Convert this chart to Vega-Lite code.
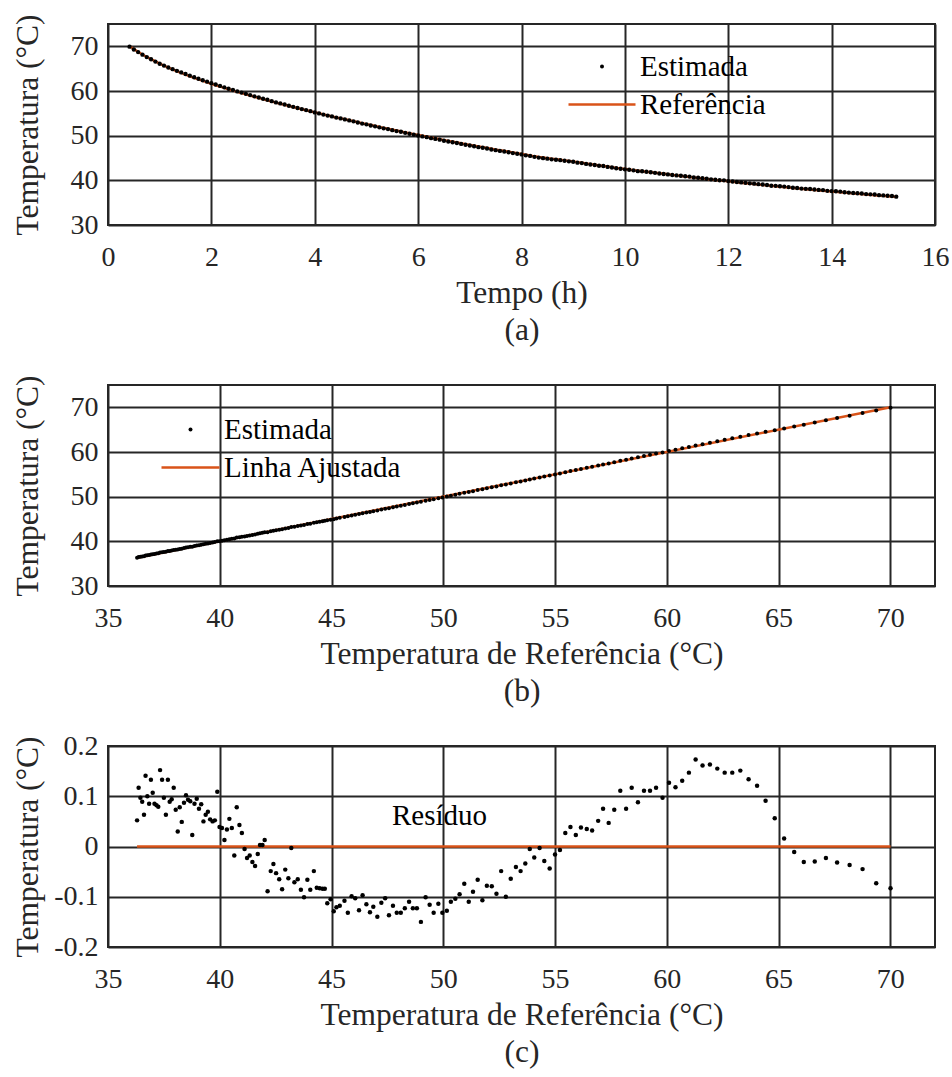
{
  "$schema": "https://vega.github.io/schema/vega-lite/v6.json",
  "background": "white",
  "padding": {"left": 10, "top": 12, "right": 5, "bottom": 5},
  "autosize": {"type": "pad"},
  "bounds": "flush",
  "spacing": 160,
  "datasets": {
    "amostras": [
      {"t":0.417,"ref":70.01,"est":69.927,"res":-0.083},
      {"t":0.5,"ref":69.37,"est":69.297,"res":-0.073},
      {"t":0.583,"ref":68.76,"est":68.715,"res":-0.045},
      {"t":0.667,"ref":68.18,"est":68.143,"res":-0.037},
      {"t":0.75,"ref":67.62,"est":67.588,"res":-0.032},
      {"t":0.833,"ref":67.12,"est":67.097,"res":-0.023},
      {"t":0.917,"ref":66.62,"est":66.59,"res":-0.03},
      {"t":1,"ref":66.13,"est":66.099,"res":-0.031},
      {"t":1.083,"ref":65.7,"est":65.689,"res":-0.011},
      {"t":1.167,"ref":65.25,"est":65.266,"res":0.016},
      {"t":1.25,"ref":64.83,"est":64.886,"res":0.056},
      {"t":1.333,"ref":64.42,"est":64.511,"res":0.091},
      {"t":1.417,"ref":64.04,"est":64.161,"res":0.121},
      {"t":1.5,"ref":63.66,"est":63.794,"res":0.134},
      {"t":1.583,"ref":63.29,"est":63.441,"res":0.151},
      {"t":1.667,"ref":62.93,"est":63.077,"res":0.147},
      {"t":1.75,"ref":62.59,"est":62.737,"res":0.147},
      {"t":1.833,"ref":62.26,"est":62.415,"res":0.155},
      {"t":1.917,"ref":61.93,"est":62.093,"res":0.163},
      {"t":2,"ref":61.6,"est":61.761,"res":0.161},
      {"t":2.083,"ref":61.29,"est":61.463,"res":0.173},
      {"t":2.167,"ref":60.99,"est":61.137,"res":0.147},
      {"t":2.25,"ref":60.69,"est":60.821,"res":0.131},
      {"t":2.333,"ref":60.39,"est":60.508,"res":0.118},
      {"t":2.417,"ref":60.1,"est":60.227,"res":0.127},
      {"t":2.5,"ref":59.81,"est":59.907,"res":0.097},
      {"t":2.583,"ref":59.52,"est":59.637,"res":0.117},
      {"t":2.667,"ref":59.25,"est":59.361,"res":0.111},
      {"t":2.75,"ref":58.98,"est":59.091,"res":0.111},
      {"t":2.833,"ref":58.71,"est":58.798,"res":0.088},
      {"t":2.917,"ref":58.43,"est":58.547,"res":0.117},
      {"t":3,"ref":58.18,"est":58.255,"res":0.075},
      {"t":3.083,"ref":57.92,"est":58.031,"res":0.111},
      {"t":3.167,"ref":57.65,"est":57.723,"res":0.073},
      {"t":3.25,"ref":57.4,"est":57.447,"res":0.047},
      {"t":3.333,"ref":57.15,"est":57.225,"res":0.075},
      {"t":3.417,"ref":56.93,"est":56.981,"res":0.051},
      {"t":3.5,"ref":56.66,"est":56.692,"res":0.032},
      {"t":3.583,"ref":56.42,"est":56.455,"res":0.035},
      {"t":3.667,"ref":56.16,"est":56.198,"res":0.038},
      {"t":3.75,"ref":55.93,"est":55.953,"res":0.023},
      {"t":3.833,"ref":55.69,"est":55.729,"res":0.039},
      {"t":3.917,"ref":55.46,"est":55.487,"res":0.027},
      {"t":4,"ref":55.22,"est":55.213,"res":-0.007},
      {"t":4.083,"ref":55.0,"est":54.984,"res":-0.016},
      {"t":4.167,"ref":54.76,"est":54.716,"res":-0.044},
      {"t":4.25,"ref":54.52,"est":54.491,"res":-0.029},
      {"t":4.333,"ref":54.31,"est":54.307,"res":-0.003},
      {"t":4.417,"ref":54.07,"est":54.048,"res":-0.022},
      {"t":4.5,"ref":53.87,"est":53.865,"res":-0.005},
      {"t":4.583,"ref":53.67,"est":53.636,"res":-0.034},
      {"t":4.667,"ref":53.46,"est":53.411,"res":-0.049},
      {"t":4.75,"ref":53.25,"est":53.209,"res":-0.041},
      {"t":4.833,"ref":53.02,"est":52.956,"res":-0.064},
      {"t":4.917,"ref":52.8,"est":52.7,"res":-0.1},
      {"t":5,"ref":52.59,"est":52.541,"res":-0.049},
      {"t":5.083,"ref":52.38,"est":52.286,"res":-0.094},
      {"t":5.167,"ref":52.17,"est":52.091,"res":-0.079},
      {"t":5.25,"ref":51.95,"est":51.872,"res":-0.078},
      {"t":5.333,"ref":51.75,"est":51.643,"res":-0.107},
      {"t":5.417,"ref":51.54,"est":51.474,"res":-0.066},
      {"t":5.5,"ref":51.33,"est":51.24,"res":-0.09},
      {"t":5.583,"ref":51.14,"est":51.03,"res":-0.11},
      {"t":5.667,"ref":50.94,"est":50.866,"res":-0.074},
      {"t":5.75,"ref":50.73,"est":50.635,"res":-0.095},
      {"t":5.833,"ref":50.54,"est":50.436,"res":-0.104},
      {"t":5.917,"ref":50.34,"est":50.23,"res":-0.11},
      {"t":6,"ref":50.16,"est":50.032,"res":-0.128},
      {"t":6.083,"ref":49.96,"est":49.828,"res":-0.132},
      {"t":6.167,"ref":49.78,"est":49.666,"res":-0.114},
      {"t":6.25,"ref":49.57,"est":49.438,"res":-0.132},
      {"t":6.333,"ref":49.39,"est":49.274,"res":-0.116},
      {"t":6.417,"ref":49.21,"est":49.109,"res":-0.101},
      {"t":6.5,"ref":49.0,"est":48.85,"res":-0.15},
      {"t":6.583,"ref":48.82,"est":48.697,"res":-0.123},
      {"t":6.667,"ref":48.64,"est":48.517,"res":-0.123},
      {"t":6.75,"ref":48.47,"est":48.36,"res":-0.11},
      {"t":6.833,"ref":48.28,"est":48.157,"res":-0.123},
      {"t":6.917,"ref":48.1,"est":47.968,"res":-0.132},
      {"t":7,"ref":47.92,"est":47.788,"res":-0.132},
      {"t":7.083,"ref":47.75,"est":47.632,"res":-0.118},
      {"t":7.167,"ref":47.57,"est":47.433,"res":-0.137},
      {"t":7.25,"ref":47.4,"est":47.297,"res":-0.103},
      {"t":7.333,"ref":47.23,"est":47.118,"res":-0.112},
      {"t":7.417,"ref":47.05,"est":46.91,"res":-0.14},
      {"t":7.5,"ref":46.87,"est":46.75,"res":-0.12},
      {"t":7.583,"ref":46.72,"est":46.589,"res":-0.131},
      {"t":7.667,"ref":46.56,"est":46.445,"res":-0.115},
      {"t":7.75,"ref":46.39,"est":46.293,"res":-0.097},
      {"t":7.833,"ref":46.23,"est":46.103,"res":-0.127},
      {"t":7.917,"ref":46.06,"est":45.957,"res":-0.103},
      {"t":8,"ref":45.9,"est":45.801,"res":-0.099},
      {"t":8.083,"ref":45.73,"est":45.598,"res":-0.132},
      {"t":8.167,"ref":45.58,"est":45.472,"res":-0.108},
      {"t":8.25,"ref":45.37,"est":45.252,"res":-0.118},
      {"t":8.333,"ref":45.22,"est":45.099,"res":-0.121},
      {"t":8.417,"ref":45.1,"est":44.971,"res":-0.129},
      {"t":8.5,"ref":44.96,"est":44.855,"res":-0.105},
      {"t":8.583,"ref":44.81,"est":44.697,"res":-0.113},
      {"t":8.667,"ref":44.7,"est":44.616,"res":-0.084},
      {"t":8.75,"ref":44.6,"est":44.516,"res":-0.084},
      {"t":8.833,"ref":44.47,"est":44.387,"res":-0.083},
      {"t":8.917,"ref":44.34,"est":44.258,"res":-0.082},
      {"t":9,"ref":44.21,"est":44.161,"res":-0.049},
      {"t":9.083,"ref":44.05,"est":43.964,"res":-0.086},
      {"t":9.167,"ref":43.92,"est":43.854,"res":-0.066},
      {"t":9.25,"ref":43.77,"est":43.669,"res":-0.101},
      {"t":9.333,"ref":43.63,"est":43.544,"res":-0.086},
      {"t":9.417,"ref":43.49,"est":43.425,"res":-0.065},
      {"t":9.5,"ref":43.34,"est":43.269,"res":-0.071},
      {"t":9.583,"ref":43.2,"est":43.197,"res":-0.003},
      {"t":9.667,"ref":43.07,"est":43.007,"res":-0.063},
      {"t":9.75,"ref":42.93,"est":42.884,"res":-0.046},
      {"t":9.833,"ref":42.79,"est":42.705,"res":-0.085},
      {"t":9.917,"ref":42.66,"est":42.595,"res":-0.065},
      {"t":10,"ref":42.52,"est":42.467,"res":-0.053},
      {"t":10.083,"ref":42.4,"est":42.365,"res":-0.035},
      {"t":10.167,"ref":42.28,"est":42.231,"res":-0.049},
      {"t":10.25,"ref":42.14,"est":42.051,"res":-0.089},
      {"t":10.333,"ref":42.01,"est":42.023,"res":0.013},
      {"t":10.417,"ref":41.91,"est":41.913,"res":0.003},
      {"t":10.5,"ref":41.8,"est":41.803,"res":0.003},
      {"t":10.583,"ref":41.7,"est":41.685,"res":-0.015},
      {"t":10.667,"ref":41.58,"est":41.541,"res":-0.039},
      {"t":10.75,"ref":41.46,"est":41.429,"res":-0.031},
      {"t":10.833,"ref":41.34,"est":41.322,"res":-0.018},
      {"t":10.917,"ref":41.22,"est":41.197,"res":-0.023},
      {"t":11,"ref":41.11,"est":41.105,"res":-0.005},
      {"t":11.083,"ref":40.99,"est":41.017,"res":0.027},
      {"t":11.167,"ref":40.88,"est":40.923,"res":0.043},
      {"t":11.25,"ref":40.76,"est":40.838,"res":0.078},
      {"t":11.333,"ref":40.65,"est":40.632,"res":-0.018},
      {"t":11.417,"ref":40.54,"est":40.577,"res":0.037},
      {"t":11.5,"ref":40.43,"est":40.485,"res":0.055},
      {"t":11.583,"ref":40.32,"est":40.354,"res":0.034},
      {"t":11.667,"ref":40.21,"est":40.223,"res":0.013},
      {"t":11.75,"ref":40.1,"est":40.137,"res":0.037},
      {"t":11.833,"ref":39.99,"est":40.029,"res":0.039},
      {"t":11.917,"ref":39.89,"est":39.999,"res":0.109},
      {"t":12,"ref":39.78,"est":39.832,"res":0.052},
      {"t":12.083,"ref":39.68,"est":39.73,"res":0.05},
      {"t":12.167,"ref":39.57,"est":39.624,"res":0.054},
      {"t":12.25,"ref":39.47,"est":39.539,"res":0.069},
      {"t":12.333,"ref":39.37,"est":39.433,"res":0.063},
      {"t":12.417,"ref":39.27,"est":39.32,"res":0.05},
      {"t":12.5,"ref":39.17,"est":39.254,"res":0.084},
      {"t":12.583,"ref":39.07,"est":39.145,"res":0.075},
      {"t":12.667,"ref":38.97,"est":39.065,"res":0.095},
      {"t":12.75,"ref":38.87,"est":38.955,"res":0.085},
      {"t":12.833,"ref":38.77,"est":38.793,"res":0.023},
      {"t":12.917,"ref":38.68,"est":38.77,"res":0.09},
      {"t":13,"ref":38.58,"est":38.673,"res":0.093},
      {"t":13.083,"ref":38.49,"est":38.592,"res":0.102},
      {"t":13.167,"ref":38.4,"est":38.487,"res":0.087},
      {"t":13.25,"ref":38.3,"est":38.349,"res":0.049},
      {"t":13.333,"ref":38.21,"est":38.288,"res":0.078},
      {"t":13.417,"ref":38.12,"est":38.15,"res":0.03},
      {"t":13.5,"ref":38.03,"est":38.103,"res":0.073},
      {"t":13.583,"ref":37.94,"est":38.057,"res":0.117},
      {"t":13.667,"ref":37.85,"est":37.944,"res":0.094},
      {"t":13.75,"ref":37.76,"est":37.849,"res":0.089},
      {"t":13.833,"ref":37.68,"est":37.813,"res":0.133},
      {"t":13.917,"ref":37.59,"est":37.653,"res":0.063},
      {"t":14,"ref":37.5,"est":37.597,"res":0.097},
      {"t":14.083,"ref":37.42,"est":37.553,"res":0.133},
      {"t":14.167,"ref":37.33,"est":37.482,"res":0.152},
      {"t":14.25,"ref":37.25,"est":37.329,"res":0.079},
      {"t":14.333,"ref":37.17,"est":37.252,"res":0.082},
      {"t":14.417,"ref":37.08,"est":37.165,"res":0.085},
      {"t":14.5,"ref":37.0,"est":37.107,"res":0.107},
      {"t":14.583,"ref":36.92,"est":37.053,"res":0.133},
      {"t":14.667,"ref":36.84,"est":36.925,"res":0.085},
      {"t":14.75,"ref":36.76,"est":36.86,"res":0.1},
      {"t":14.833,"ref":36.68,"est":36.821,"res":0.141},
      {"t":14.917,"ref":36.61,"est":36.673,"res":0.063},
      {"t":15,"ref":36.53,"est":36.619,"res":0.089},
      {"t":15.083,"ref":36.45,"est":36.547,"res":0.097},
      {"t":15.167,"ref":36.37,"est":36.487,"res":0.117},
      {"t":15.25,"ref":36.3,"est":36.352,"res":0.052}
    ]
  },
  "config": {
    "font": "Liberation Serif",
    "view": {"stroke": "#262626", "strokeWidth": 2},
    "axis": {
      "grid": true,
      "gridColor": "#262626",
      "gridOpacity": 1,
      "gridWidth": 2,
      "domain": false,
      "ticks": false,
      "labelFont": "Liberation Serif",
      "labelFontSize": 28,
      "labelColor": "#262626",
      "titleFont": "Liberation Serif",
      "titleFontSize": 31.5,
      "titleFontWeight": "normal",
      "titleColor": "#262626"
    },
    "axisX": {"labelPadding": 18, "titlePadding": 6, "titleLineHeight": 37, "labelFlush": false},
    "axisY": {"labelPadding": 10},
    "legend": {
      "orient": "none",
      "padding": 0,
      "labelFont": "Liberation Serif",
      "labelFontSize": 29,
      "labelColor": "black",
      "labelLimit": 400,
      "labelOffset": 5,
      "rowPadding": 8
    }
  },
  "resolve": {"scale": {"color": "independent"}, "legend": {"color": "independent"}},
  "vconcat": [
    {
      "width": 827,
      "height": 201,
      "data": {"name": "amostras"},
      "encoding": {
        "x": {
          "field": "t",
          "type": "quantitative",
          "scale": {"domain": [0, 16], "nice": false},
          "axis": {"values": [0, 2, 4, 6, 8, 10, 12, 14, 16], "title": ["Tempo (h)", "(a)"]}
        }
      },
      "layer": [
        {
          "mark": {"type": "line", "strokeWidth": 2.5},
          "encoding": {
            "y": {
              "field": "ref",
              "type": "quantitative",
              "scale": {"domain": [30, 75], "nice": false},
              "axis": {"values": [30, 40, 50, 60, 70], "title": "Temperatura (°C)", "titleX": -80, "titleBaseline": "middle"}
            },
            "color": {
              "datum": "Referência",
              "scale": {"domain": ["Estimada", "Referência"], "range": ["black", "#D95319"]},
              "legend": {
                "title": null,
                "legendX": 461,
                "legendY": 28,
                "symbolSize": 4489,
                "encode": {
                  "symbols": {
                    "update": {
                      "x": {"value": 33},
                      "shape": {"signal": "datum.value === 'Referência' ? 'stroke' : 'circle'"},
                      "size": {"signal": "datum.value === 'Referência' ? 4489 : 16"},
                      "fill": {"signal": "datum.value === 'Referência' ? 'transparent' : 'black'"},
                      "stroke": {"signal": "datum.value === 'Referência' ? '#D95319' : 'transparent'"},
                      "strokeWidth": {"signal": "datum.value === 'Referência' ? 2.5 : 0"},
                      "opacity": {"value": 1}
                    }
                  },
                  "labels": {"update": {"x": {"value": 71}}}
                }
              }
            }
          }
        },
        {
          "mark": {"type": "point", "filled": true, "size": 19, "opacity": 1},
          "encoding": {
            "y": {
              "field": "est",
              "type": "quantitative",
              "axis": {"values": [30, 40, 50, 60, 70], "title": "Temperatura (°C)", "titleX": -80, "titleBaseline": "middle"}
            },
            "color": {"datum": "Estimada"}
          }
        }
      ]
    },
    {
      "width": 827,
      "height": 201,
      "data": {"name": "amostras"},
      "encoding": {
        "x": {
          "field": "ref",
          "type": "quantitative",
          "scale": {"domain": [35, 72], "nice": false},
          "axis": {"values": [35, 40, 45, 50, 55, 60, 65, 70], "title": ["Temperatura de Referência (°C)", "(b)"]}
        }
      },
      "layer": [
        {
          "transform": [{"regression": "est", "on": "ref"}],
          "mark": {"type": "line", "strokeWidth": 2.5},
          "encoding": {
            "y": {
              "field": "est",
              "type": "quantitative",
              "scale": {"domain": [30, 75], "nice": false},
              "axis": {"values": [30, 40, 50, 60, 70], "title": "Temperatura (°C)", "titleX": -80, "titleBaseline": "middle"}
            },
            "color": {
              "datum": "Linha Ajustada",
              "scale": {"domain": ["Estimada", "Linha Ajustada"], "range": ["black", "#D95319"]},
              "legend": {
                "title": null,
                "legendX": 54,
                "legendY": 30,
                "symbolSize": 3364,
                "encode": {
                  "symbols": {
                    "update": {
                      "x": {"value": 28.5},
                      "shape": {"signal": "datum.value === 'Linha Ajustada' ? 'stroke' : 'circle'"},
                      "size": {"signal": "datum.value === 'Linha Ajustada' ? 3364 : 16"},
                      "fill": {"signal": "datum.value === 'Linha Ajustada' ? 'transparent' : 'black'"},
                      "stroke": {"signal": "datum.value === 'Linha Ajustada' ? '#D95319' : 'transparent'"},
                      "strokeWidth": {"signal": "datum.value === 'Linha Ajustada' ? 2.5 : 0"},
                      "opacity": {"value": 1}
                    }
                  },
                  "labels": {"update": {"x": {"value": 62}}}
                }
              }
            }
          }
        },
        {
          "mark": {"type": "point", "filled": true, "size": 16, "opacity": 1},
          "encoding": {
            "y": {
              "field": "est",
              "type": "quantitative",
              "axis": {"values": [30, 40, 50, 60, 70], "title": "Temperatura (°C)", "titleX": -80, "titleBaseline": "middle"}
            },
            "color": {"datum": "Estimada"}
          }
        }
      ]
    },
    {
      "width": 827,
      "height": 201,
      "data": {"name": "amostras"},
      "encoding": {
        "x": {
          "field": "ref",
          "type": "quantitative",
          "scale": {"domain": [35, 72], "nice": false},
          "axis": {"values": [35, 40, 45, 50, 55, 60, 65, 70], "title": ["Temperatura de Referência (°C)", "(c)"]}
        }
      },
      "layer": [
        {
          "mark": {"type": "line", "strokeWidth": 2.5, "color": "#D95319"},
          "encoding": {
            "y": {
              "datum": 0,
              "type": "quantitative",
              "scale": {"domain": [-0.2, 0.2], "nice": false},
              "axis": {"values": [-0.2, -0.1, 0, 0.1, 0.2], "labelExpr": "'' + datum.value", "title": "Temperatura (°C)", "titleX": -80, "titleBaseline": "middle"}
            }
          }
        },
        {
          "mark": {"type": "point", "filled": true, "size": 20, "opacity": 1},
          "encoding": {
            "y": {
              "field": "res",
              "type": "quantitative",
              "axis": {"values": [-0.2, -0.1, 0, 0.1, 0.2], "labelExpr": "'' + datum.value", "title": "Temperatura (°C)", "titleX": -80, "titleBaseline": "middle"}
            },
            "color": {
              "datum": "Resíduo",
              "scale": {"domain": ["Resíduo"], "range": ["black"]},
              "legend": {
                "title": null,
                "legendX": 219,
                "legendY": 40,
                "symbolSize": 3364,
                "symbolOpacity": 0
              }
            }
          }
        }
      ]
    }
  ]
}
